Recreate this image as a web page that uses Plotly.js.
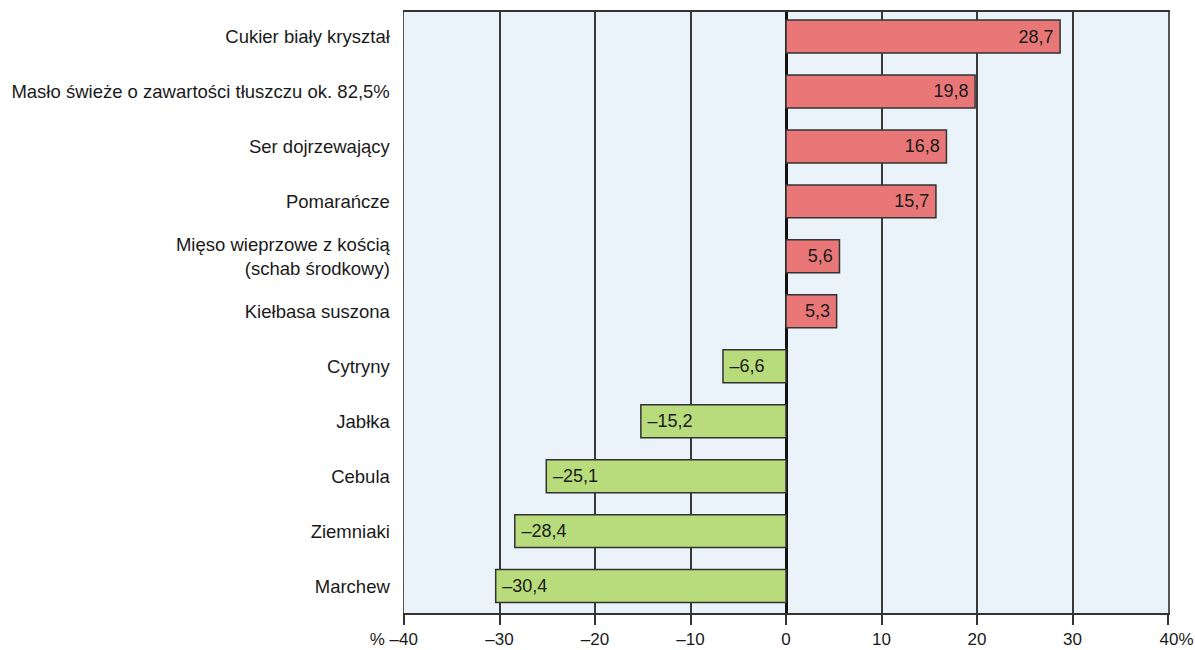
<!DOCTYPE html>
<html>
<head>
<meta charset="utf-8">
<script src="https://cdn.plot.ly/plotly-3.0.1.min.js"></script>
<style>html,body{margin:0;padding:0;background:#fff}#chart{width:1195px;height:650px}</style>
</head>
<body>
<div id="chart"></div>
<script>
var categories = [
  "Cukier biały kryształ",
  "Masło świeże o zawartości tłuszczu ok. 82,5%",
  "Ser dojrzewający",
  "Pomarańcze",
  "Mięso wieprzowe z kością<br>(schab środkowy)",
  "Kiełbasa suszona",
  "Cytryny",
  "Jabłka",
  "Cebula",
  "Ziemniaki",
  "Marchew"
];
var values = [28.7, 19.8, 16.8, 15.7, 5.6, 5.3, -6.6, -15.2, -25.1, -28.4, -30.4];
var tickVals = [-40, -30, -20, -10, 0, 10, 20, 30, 40];
var tickText = ["% –40\u2002\u2002\u2009", "–30", "–20", "–10", "0", "10", "20", "30", "\u2002\u200240%"];

function fmt(v) {
  var s = Math.abs(v).toFixed(1).replace(".", ",");
  return v < 0 ? "\u2009–" + s : s + "\u2009";
}
var labels = values.map(fmt);
var colors = values.map(function (v) { return v >= 0 ? "#e97777" : "#b8dc7c"; });

var trace = {
  type: "bar",
  orientation: "h",
  x: values,
  y: categories,
  width: 0.6,
  marker: { color: colors, line: { color: "#333333", width: 1.5 } },
  text: labels,
  textposition: "inside",
  insidetextanchor: "end",
  textangle: 0,
  textfont: { family: "Liberation Sans, Arial, sans-serif", size: 18, color: "#1a1a1a" },
  constraintext: "none",
  hoverinfo: "none"
};

var layout = {
  width: 1195,
  height: 650,
  margin: { l: 404, r: 27, t: 12, b: 37 },
  paper_bgcolor: "#ffffff",
  plot_bgcolor: "#eaf3f9",
  showlegend: false,
  font: { family: "Liberation Sans, Arial, sans-serif", size: 18, color: "#1a1a1a" },
  xaxis: {
    range: [-40, 40],
    tickvals: tickVals,
    ticktext: tickText,
    ticks: "outside",
    ticklen: 10,
    tickwidth: 2,
    tickcolor: "#333333",
    showgrid: true,
    gridcolor: "#3a3a3a",
    gridwidth: 2,
    zeroline: true,
    zerolinecolor: "#111111",
    zerolinewidth: 3,
    showline: true,
    linecolor: "#333333",
    linewidth: 2,
    mirror: true,
    tickfont: { size: 17, color: "#1a1a1a" },
    ticklabelstandoff: 0,
    fixedrange: true
  },
  yaxis: {
    type: "category",
    range: [10.49, -0.446],
    showgrid: false,
    ticks: "",
    ticklabelstandoff: 9,
    showline: true,
    linecolor: "#555555",
    linewidth: 1.5,
    mirror: true,
    tickfont: { size: 18.5, color: "#1a1a1a" },
    fixedrange: true
  },
  bargap: 0.4
};

Plotly.newPlot("chart", [trace], layout, { displayModeBar: false, staticPlot: true });
</script>
</body>
</html>
